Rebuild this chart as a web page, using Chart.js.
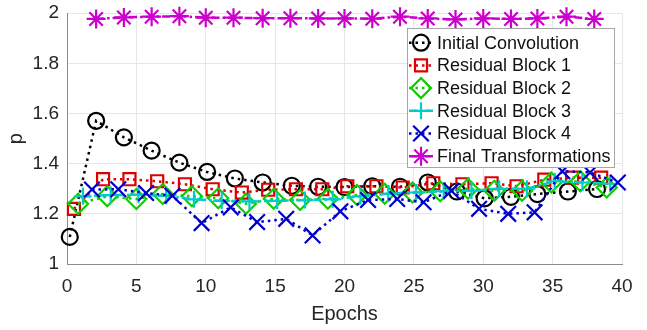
<!DOCTYPE html>
<html>
<head>
<meta charset="utf-8">
<script src="https://cdn.jsdelivr.net/npm/chart.js@4.4.1/dist/chart.umd.min.js"></script>
<style>
  html, body { margin: 0; padding: 0; background: #fff; }
  canvas { display: block; }
</style>
</head>
<body>
<canvas id="pchart" width="647" height="330"></canvas>
<script>
"use strict";
// values; each series sits slightly shifted along x
const seriesNames = ["Initial Convolution", "Residual Block 1", "Residual Block 2",
  "Residual Block 3", "Residual Block 4", "Final Transformations"];

const epochsInit = [0.2, 2.1, 4.1, 6.1, 8.1, 10.1, 12.1, 14.1, 16.2, 18.1, 20, 22, 24, 26, 28.1, 30.1, 32, 33.9, 36.1, 38.2];
const pInit = [1.108, 1.571, 1.505, 1.452, 1.404, 1.367, 1.341, 1.325, 1.312, 1.308, 1.307, 1.31, 1.308, 1.325, 1.289, 1.262, 1.268, 1.279, 1.289, 1.299];

const epochsRes1 = [0.5, 2.6, 4.5, 6.5, 8.5, 10.5, 12.6, 14.5, 16.5, 18.4, 20.2, 22.3, 24.2, 26.4, 28.5, 30.6, 32.4, 34.4, 36.4, 38.5];
const pRes1 = [1.22, 1.338, 1.338, 1.33, 1.318, 1.298, 1.285, 1.296, 1.298, 1.298, 1.31, 1.31, 1.305, 1.322, 1.318, 1.322, 1.31, 1.336, 1.344, 1.344];

const epochsRes2 = [0.8, 2.9, 5, 6.9, 9, 10.9, 12.9, 14.9, 16.8, 18.8, 20.9, 22.9, 24.9, 26.9, 28.9, 30.8, 32.8, 34.9, 37, 38.9];
const pRes2 = [1.24, 1.27, 1.259, 1.279, 1.27, 1.262, 1.24, 1.26, 1.255, 1.26, 1.275, 1.28, 1.285, 1.29, 1.3, 1.292, 1.292, 1.325, 1.33, 1.305];

const epochsRes3 = [1.15, 3.15, 5.15, 7.15, 9.15, 11.15, 13.15, 15.15, 17.15, 19.15, 21.15, 23.15, 25.15, 27.15, 29.15, 31.15, 33.15, 35.15, 37.15, 39.15];
const pRes3 = [1.27, 1.275, 1.276, 1.272, 1.258, 1.252, 1.25, 1.252, 1.255, 1.258, 1.27, 1.28, 1.285, 1.29, 1.292, 1.3, 1.3, 1.33, 1.325, 1.32];

const epochsRes4 = [1.8, 3.7, 5.7, 7.6, 9.7, 11.8, 13.7, 15.8, 17.7, 19.7, 21.7, 23.8, 25.7, 27.7, 29.7, 31.8, 33.7, 35.7, 37.7, 39.7];
const pRes4 = [1.297, 1.298, 1.283, 1.272, 1.163, 1.226, 1.167, 1.18, 1.114, 1.21, 1.255, 1.259, 1.246, 1.292, 1.22, 1.2, 1.206, 1.37, 1.365, 1.325];

const epochsFinal = [2.1, 4.1, 6.1, 8.1, 10, 12, 14.1, 16.1, 18.1, 20, 22, 24, 26, 28, 30, 32, 33.9, 36, 38];
const pFinal = [1.977, 1.983, 1.986, 1.988, 1.982, 1.982, 1.98, 1.98, 1.979, 1.979, 1.978, 1.986, 1.979, 1.975, 1.979, 1.977, 1.979, 1.986, 1.977];

const xTicks = [0, 5, 10, 15, 20, 25, 30, 35, 40];
const yTicks = [1, 1.2, 1.4, 1.6, 1.8, 2];

const FONT = "'Liberation Sans', Arial, Helvetica, sans-serif";
const DOT = [2.5, 4];
const DASHDOT = [8, 3, 2.5, 3];

const looks = [
  { color: "#000000", style: "circle", radius: 8, dash: DOT },
  { color: "#dd0000", style: "rect", radius: 8.5, dash: DOT },
  { color: "#11cc00", style: "rectRot", radius: 10, dash: DOT },
  { color: "#00cccc", style: "cross", radius: 8.5, dash: DASHDOT },
  { color: "#0000cc", style: "crossRot", radius: 11, dash: DOT },
  { color: "#cc00cc", style: "star", radius: 9.5, dash: DASHDOT }
];

const xs = [epochsInit, epochsRes1, epochsRes2, epochsRes3, epochsRes4, epochsFinal];
const ys = [pInit, pRes1, pRes2, pRes3, pRes4, pFinal];

const datasets = seriesNames.map((name, i) => ({
  label: name,
  data: xs[i].map((x, k) => ({ x: x, y: ys[i][k] })),
  borderColor: looks[i].color,
  backgroundColor: "rgba(0,0,0,0)",
  borderWidth: 2.5,
  borderDash: looks[i].dash,
  pointStyle: looks[i].style,
  pointRadius: looks[i].radius,
  pointBorderWidth: 2.2,
  pointBorderColor: looks[i].color,
  pointBackgroundColor: "rgba(0,0,0,0)",
  tension: 0,
  clip: false,
  order: seriesNames.length - i
}));

// legend box drawn inside the plot, top right
const boxLegend = {
  id: "boxLegend",
  afterDraw(chart) {
    const ctx = chart.ctx;
    const left = 407, top = 28, w = 207, h = 139;
    ctx.save();
    ctx.fillStyle = "#ffffff";
    ctx.fillRect(left, top, w, h);
    ctx.strokeStyle = "#a6a6a6";
    ctx.lineWidth = 1;
    ctx.strokeRect(left + 0.5, top + 0.5, w, h);
    ctx.font = "18px " + FONT;
    ctx.textBaseline = "middle";
    seriesNames.forEach((name, i) => {
      const y = 42.7 + i * 22.7;
      ctx.strokeStyle = looks[i].color;
      ctx.lineWidth = 2.5;
      ctx.setLineDash(looks[i].dash);
      ctx.beginPath();
      ctx.moveTo(409, y);
      ctx.lineTo(433, y);
      ctx.stroke();
      ctx.setLineDash([]);
      ctx.fillStyle = "rgba(0,0,0,0)";
      ctx.lineWidth = 2.2;
      Chart.helpers.drawPoint(ctx, {
        pointStyle: looks[i].style, radius: looks[i].radius,
        rotation: 0, borderWidth: 2.2
      }, 421, y);
      ctx.fillStyle = "#111111";
      ctx.fillText(name, 437, y + 1);
    });
    ctx.restore();
  }
};

new Chart(document.getElementById("pchart"), {
  type: "line",
  data: { datasets: datasets },
  plugins: [boxLegend],
  options: {
    responsive: false,
    animation: false,
    devicePixelRatio: 1,
    layout: { padding: { left: 0, right: 25, top: 10.5, bottom: 0 } },
    plugins: { legend: { display: false }, tooltip: { enabled: false } },
    font: { family: FONT },
    scales: {
      x: {
        type: "linear", min: 0, max: 40,
        afterBuildTicks: s => { s.ticks = xTicks.map(v => ({ value: v })); },
        afterFit: s => { s.height = 66; s.paddingLeft = 0; s.paddingRight = 0; },
        border: { color: "#8c8c8c", width: 1 },
        grid: { color: "#e6e6e6", drawTicks: false },
        ticks: { padding: 11, color: "#262626", font: { family: FONT, size: 19 }, maxRotation: 0, autoSkip: false },
        title: { display: true, text: "Epochs", color: "#262626", font: { family: FONT, size: 20 } }
      },
      y: {
        min: 1, max: 2,
        afterBuildTicks: s => { s.ticks = yTicks.map(v => ({ value: v })); },
        afterFit: s => { s.width = 67; s.paddingTop = 0; s.paddingBottom = 0; },
        border: { color: "#8c8c8c", width: 1 },
        grid: { color: "#e6e6e6", drawTicks: false },
        ticks: { padding: 8, color: "#262626", font: { family: FONT, size: 19 },
          callback: v => String(+v.toFixed(1)) },
        title: { display: true, text: "p", color: "#262626", font: { family: FONT, size: 20 } }
      }
    }
  }
});
</script>
</body>
</html>
